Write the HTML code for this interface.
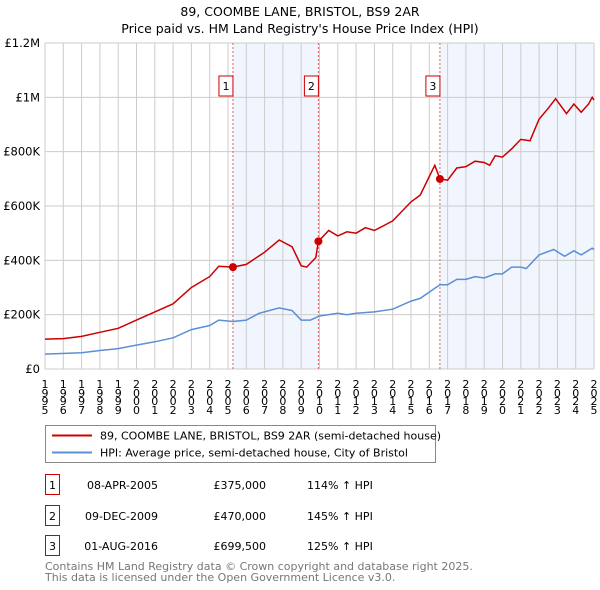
<!DOCTYPE html>
<html><head><meta charset="utf-8"><style>
body{margin:0;background:#fff;font-family:"DejaVu Sans","Liberation Sans",sans-serif;}
#wrap{position:relative;width:600px;height:590px;overflow:hidden}
svg{display:block;position:absolute;left:0;top:0}
.xl{position:absolute;font-size:11px;line-height:8.5px;width:8px;word-break:break-all;overflow-wrap:anywhere;text-align:center;}
</style></head><body>
<div id="wrap">
<svg id="c" width="600" height="590" xmlns="http://www.w3.org/2000/svg" font-family="DejaVu Sans, Liberation Sans, sans-serif">
<text x="300" y="16" text-anchor="middle" font-size="12.5">89, COOMBE LANE, BRISTOL, BS9 2AR</text>
<text x="300" y="33" text-anchor="middle" font-size="12.5">Price paid vs. HM Land Registry's House Price Index (HPI)</text>
<g id="plot"></g>
<g>
<rect x="45.5" y="425.5" width="390" height="37" fill="#fff" stroke="#888"/>
<line x1="52" y1="435.5" x2="92" y2="435.5" stroke="#cc0000" stroke-width="2"/>
<text x="100" y="439.5" font-size="11">89, COOMBE LANE, BRISTOL, BS9 2AR (semi-detached house)</text>
<line x1="52" y1="452.5" x2="92" y2="452.5" stroke="#5b8fd6" stroke-width="2"/>
<text x="100" y="456.5" font-size="11">HPI: Average price, semi-detached house, City of Bristol</text>
</g>
<g id="tbl" font-size="11"></g>
<text x="45" y="570" font-size="11" fill="#777">Contains HM Land Registry data © Crown copyright and database right 2025.</text>
<text x="45" y="581" font-size="11" fill="#777">This data is licensed under the Open Government Licence v3.0.</text>
</svg>
</div>
<script>
const yTicks=[0,200000,400000,600000,800000,1000000,1200000];
const yTickLabels=["£0","£200K","£400K","£600K","£800K","£1M","£1.2M"];
const years=[1995,1996,1997,1998,1999,2000,2001,2002,2003,2004,2005,2006,2007,2008,2009,2010,2011,2012,2013,2014,2015,2016,2017,2018,2019,2020,2021,2022,2023,2024,2025];
const saleDates=[2005.27,2009.94,2016.58];
const salePrices=[375000,470000,699500];
const saleLabels=["1","2","3"];
const saleDateText=["08-APR-2005","09-DEC-2009","01-AUG-2016"];
const salePriceText=["£375,000","£470,000","£699,500"];
const saleHpiText=["114% ↑ HPI","145% ↑ HPI","125% ↑ HPI"];
const redT=[1995,1996,1997,1998,1999,2000,2001,2002,2003,2004,2004.5,2005.27,2006,2007,2007.8,2008.5,2009,2009.3,2009.8,2009.94,2010.5,2011,2011.5,2012,2012.5,2013,2014,2015,2015.5,2016.3,2016.58,2017,2017.5,2018,2018.5,2019,2019.3,2019.6,2020,2020.5,2021,2021.5,2022,2022.5,2022.9,2023.5,2023.9,2024.3,2024.7,2024.9,2025];
const redV=[110000,112000,120000,135000,150000,180000,210000,240000,300000,340000,378000,375000,385000,430000,475000,450000,380000,375000,410000,470000,510000,490000,505000,500000,520000,510000,545000,615000,640000,750000,700000,695000,740000,745000,765000,760000,750000,785000,780000,810000,845000,840000,920000,960000,995000,940000,975000,945000,975000,1000000,990000];
const blueT=[1995,1997,1998,1999,2000,2001,2002,2003,2004,2004.5,2005.27,2006,2006.7,2007.8,2008.5,2009,2009.5,2010,2011,2011.5,2012,2013,2014,2015,2015.5,2016.58,2017,2017.5,2018,2018.5,2019,2019.6,2020,2020.5,2021,2021.3,2022,2022.8,2023.4,2023.9,2024.3,2024.9,2025];
const blueV=[55000,60000,68000,75000,88000,100000,115000,145000,160000,180000,175000,180000,205000,225000,215000,180000,180000,195000,205000,200000,205000,210000,220000,250000,260000,310000,310000,330000,330000,340000,335000,350000,350000,375000,375000,370000,420000,440000,415000,435000,420000,445000,440000];

const X0=45,X1=594,Y0=369,Y1=43;
const xs=t=>X0+(t-1995)/(2025-1995)*(X1-X0);
const ys=v=>Y0-v/1200000*(Y0-Y1);
const NS="http://www.w3.org/2000/svg";
const plot=document.getElementById('plot');
const wrap=document.getElementById('wrap');
function mk(tag,at,parent){const e=document.createElementNS(NS,tag);for(const k in at)e.setAttribute(k,at[k]);(parent||plot).appendChild(e);return e;}
[[saleDates[0],saleDates[1]],[saleDates[2],2025]].forEach(([a,b])=>{
 const r=mk('rect',{x:xs(a),y:Y1,width:xs(b)-xs(a),height:Y0-Y1,fill:'#eef2fc',opacity:0.8});
 
 
});
years.forEach(y=>{
 const l=mk('line',{x1:xs(y),x2:xs(y),y1:Y1,y2:Y0,stroke:'#ccc','stroke-width':1});
 
 
 const d=document.createElement('div');
 d.className='xl';
 d.textContent=y;
 
 
 d.style.left=(xs(y)-4)+'px';
 d.style.top='381px';
 wrap.appendChild(d);
});
yTicks.forEach((v,i)=>{
 const l=mk('line',{x1:X0,x2:X1,y1:ys(v),y2:ys(v),stroke:'#ccc','stroke-width':1});
 
 
 const t=mk('text',{x:40,y:ys(v)+4,'text-anchor':'end','font-size':11.5});
 t.textContent=yTickLabels[i];
 
 
});
saleDates.forEach((d,i)=>{
 const l=mk('line',{x1:xs(d),x2:xs(d),y1:Y1,y2:Y0,stroke:'#e06060','stroke-dasharray':'2,2','stroke-width':1});
 
 
 const r=mk('rect',{x:xs(d)-14,y:76,width:14,height:20,fill:'#fff',stroke:'#cc0000'});
 
 
 const t=mk('text',{x:xs(d)-7,y:90,'text-anchor':'middle','font-size':11});
 t.textContent=saleLabels[i];
 
 
});
function pts(T,V){return T.map((t,i)=>xs(t).toFixed(1)+','+ys(V[i]).toFixed(1)).join(' ');}
const b=mk('polyline',{points:pts(blueT,blueV),fill:'none',stroke:'#5b8fd6','stroke-width':1.5});


const rl=mk('polyline',{points:pts(redT,redV),fill:'none',stroke:'#cc0000','stroke-width':1.5});


saleDates.forEach((d,i)=>{
 const c=mk('circle',{cx:xs(d),cy:ys(salePrices[i]),r:4,fill:'#cc0000'});
 
 
});
const tbl=document.getElementById('tbl');
const rowY=[485,516,546];
saleLabels.forEach((s,i)=>{
 const y=rowY[i];
 const r=mk('rect',{x:45.5,y:y-10.5,width:14,height:20,fill:'#fff',stroke:'#cc0000'},tbl);
 
 
 const cells=[[52.5,s,'middle'],[158,saleDateText[i],'end'],[266,salePriceText[i],'end'],[307,saleHpiText[i],'start']];
 cells.forEach(([x,txt,a])=>{
  const t=mk('text',{x:x,y:y+4,'text-anchor':a},tbl);
  t.textContent=txt;
  
  
 });
});
</script>
</body></html>
